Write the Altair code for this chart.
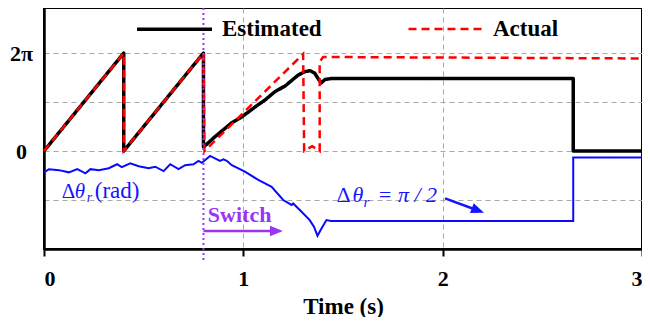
import altair as alt
import numpy as np
import pandas as pd

PI = np.pi
FONT = "'Liberation Serif', 'Times New Roman', Times, serif"

# ---- data (angles read in units of pi) ----
est_t = [0, 0.2, 0.4, 0.4, 0.6, 0.8, 0.8, 0.86, 0.94, 0.99, 1.066, 1.108, 1.158, 1.21,
         1.275, 1.308, 1.335, 1.358, 1.375, 1.39, 1.41, 1.44, 2.655, 2.655, 3.0]
est_v = [0, 1.0, 2.0, 0, 1.0, 2.0, 0.08, 0.3, 0.57, 0.69, 0.92, 1.04, 1.21, 1.33,
         1.55, 1.62, 1.64, 1.59, 1.48, 1.39, 1.46, 1.48, 1.48, 0, 0]

act_t = [0, 0.4, 0.4, 0.8, 0.805, 1.30, 1.305, 1.345, 1.383, 1.383, 1.40, 3.0]
act_v = [0, 2.0, 0, 2.0, 0, 1.98, 0, 0.1, 0, 1.82, 1.92, 1.89]

dth_t = [0, 0.025, 0.075, 0.125, 0.167, 0.208, 0.233, 0.275, 0.325, 0.367, 0.39,
         0.433, 0.475, 0.525, 0.558, 0.6, 0.633, 0.675, 0.708, 0.75, 0.775, 0.792,
         0.833, 0.883, 0.9, 0.917, 0.942, 1.008, 1.075, 1.142, 1.2, 1.242, 1.25,
         1.292, 1.333, 1.355, 1.372, 1.392, 1.417, 1.44, 2.655, 2.655, 3.0]
dth_v = [-0.435, -0.37, -0.39, -0.435, -0.37, -0.455, -0.37, -0.39, -0.35, -0.27, -0.33,
         -0.25, -0.31, -0.35, -0.32, -0.41, -0.27, -0.37, -0.29, -0.27, -0.20, -0.24,
         -0.10, -0.20, -0.17, -0.20, -0.29, -0.42, -0.59, -0.73, -1.0, -1.10, -1.07,
         -1.24, -1.41, -1.55, -1.73, -1.58, -1.41, -1.43, -1.43, -0.13, -0.13]

series_names = ["Estimated", "Actual"]
x_ticks = [0, 1, 2, 3]
y_ticks_pi = [-1, 0, 1, 2]
y_domain_pi = [-2, 2.92]
switch_t = 0.8

W, H = 598, 241


def frame(t, v, name):
    return pd.DataFrame({"t": t, "v": np.array(v) * PI, "series": name,
                         "i": np.arange(len(t))})


est = frame(est_t, est_v, "Estimated")
act = frame(act_t, act_v, "Actual")
dth = frame(dth_t, dth_v, "dtheta")

xs = alt.Scale(domain=[0, 3], nice=False, zero=False)
ys = alt.Scale(domain=[y_domain_pi[0] * PI, y_domain_pi[1] * PI], nice=False, zero=False)

x_axis = alt.Axis(values=x_ticks, title="Time (s)", format="d", tickSize=7,
                  labelPadding=12, titlePadding=6, titleFontSize=23, titleFont=FONT,
                  titleFontWeight="bold", titleColor="black", labelAngle=0,
                  gridOpacity={"condition": {"test": "datum.value == 0 || datum.value == 3",
                                             "value": 0}, "value": 1})
y_axis = alt.Axis(values=[k * PI for k in y_ticks_pi], title=None, ticks=False,
                  labelAlign="center", labelBaseline="middle", labelPadding=23,
                  labelExpr="abs(datum.value) < 0.01 ? '0' : (abs(datum.value - 2*PI) < 0.01 ? '2π' : '')")

legend = alt.Legend(title=None, orient="none", legendX=91, legendY=-18.5,
                    direction="horizontal", symbolType="stroke", symbolSize=5625,
                    labelFont=FONT, labelFontSize=23, labelFontWeight="bold",
                    labelColor="black", labelOffset=8, columnPadding=81, padding=0)

color = alt.Color("series:N", scale=alt.Scale(domain=series_names, range=["#000000", "#FF0000"]),
                  legend=legend)
dash = alt.StrokeDash("series:N", scale=alt.Scale(domain=series_names, range=[[1, 0], [8, 5]]),
                      legend=legend)
swidth = alt.StrokeWidth("series:N", scale=alt.Scale(domain=series_names, range=[3.5, 2.5]),
                         legend=legend)

blue = alt.Chart(dth).mark_line(color="#0A0AFF", strokeWidth=2).encode(
    x=alt.X("t:Q", scale=xs, axis=x_axis),
    y=alt.Y("v:Q", scale=ys, axis=y_axis),
    order="i:Q",
)

black = alt.Chart(est).mark_line(strokeJoin="round").encode(
    x=alt.X("t:Q", scale=xs), y=alt.Y("v:Q", scale=ys), order="i:Q",
    color=color, strokeDash=dash, strokeWidth=swidth,
)
red = alt.Chart(act).mark_line().encode(
    x=alt.X("t:Q", scale=xs), y=alt.Y("v:Q", scale=ys), order="i:Q",
    color=color, strokeDash=dash, strokeWidth=swidth,
)

PURPLE = "#9A35F5"
BLUE = "#1414FF"

switch_rule = alt.Chart(pd.DataFrame({"t": [switch_t]})).mark_rule(
    color=PURPLE, strokeWidth=2, strokeDash=[2, 3]).encode(
    x=alt.X("t:Q", scale=xs), y=alt.value(0), y2=alt.value(H + 11))

# arrows (annotation anchors in data units: time, pi-units)
sw_arrow = pd.DataFrame({"t": [0.8, 1.166], "v": np.array([-1.633, -1.633]) * PI})
sw_shaft = alt.Chart(sw_arrow).mark_line(color=PURPLE, strokeWidth=2.5).encode(
    x=alt.X("t:Q", scale=xs), y=alt.Y("v:Q", scale=ys))
sw_head = alt.Chart(sw_arrow.iloc[[1]]).mark_point(
    shape="M-1,-0.8L1,0L-1,0.8Z", filled=True, opacity=1, color=PURPLE, size=169).encode(
    x=alt.X("t:Q", scale=xs), y=alt.Y("v:Q", scale=ys))

bl_arrow = pd.DataFrame({"t": [2.012, 2.177], "v": np.array([-0.965, -1.214]) * PI})
bl_shaft = alt.Chart(bl_arrow).mark_line(color=BLUE, strokeWidth=2.5).encode(
    x=alt.X("t:Q", scale=xs), y=alt.Y("v:Q", scale=ys))
bl_head = alt.Chart(bl_arrow.iloc[[1]]).mark_point(
    shape="M-1,-0.8L1,0L-1,0.8Z", filled=True, opacity=1, color=BLUE, size=169, angle=21).encode(
    x=alt.X("t:Q", scale=xs), y=alt.Y("v:Q", scale=ys))


def label(t, v, text, dx=0, dy=0, size=19, style="normal", weight="normal", color=BLUE):
    return alt.Chart(pd.DataFrame({"t": [t], "v": [v * PI], "s": [text]})).mark_text(
        align="left", baseline="alphabetic", dx=dx, dy=dy, font=FONT, fontSize=size,
        fontStyle=style, fontWeight=weight, color=color).encode(
        x=alt.X("t:Q", scale=xs), y=alt.Y("v:Q", scale=ys), text="s:N")


texts = [
    label(0.822, -1.443, "Switch", size=22, weight="bold", color=PURPLE),
    label(0.089, -0.965, "Δ", size=21),
    label(0.089, -0.965, "θ", dx=13, size=21, style="italic"),
    label(0.089, -0.965, "r", dx=25, dy=4, size=14, style="italic"),
    label(0.089, -0.965, "(rad)", dx=33, size=23),
    label(1.468, -1.034, "Δ", size=22),
    label(1.468, -1.034, "θ", dx=16, size=22, style="italic"),
    label(1.468, -1.034, "r", dx=27, dy=5, size=15, style="italic"),
    label(1.468, -1.034, "= π / 2", dx=41, size=22, style="italic"),
]

chart = alt.layer(blue, black, red, switch_rule, sw_shaft, sw_head, bl_shaft, bl_head,
                  *texts).properties(
    width=W, height=H,
    autosize=alt.AutoSizeParams(type="none"),
    padding={"left": 36, "top": 0, "right": 0, "bottom": 68},
).configure_view(stroke="black", strokeWidth=2).configure_axis(
    labelFont=FONT, labelFontSize=22, labelFontWeight="bold", labelColor="black",
    gridColor="#A8A8A8", gridDash=[5, 4], gridWidth=1,
    domainColor="black", domainWidth=2.5, tickColor="black", tickWidth=2,
)

chart.save("out.html", embed_options={"renderer": "svg", "actions": False})
